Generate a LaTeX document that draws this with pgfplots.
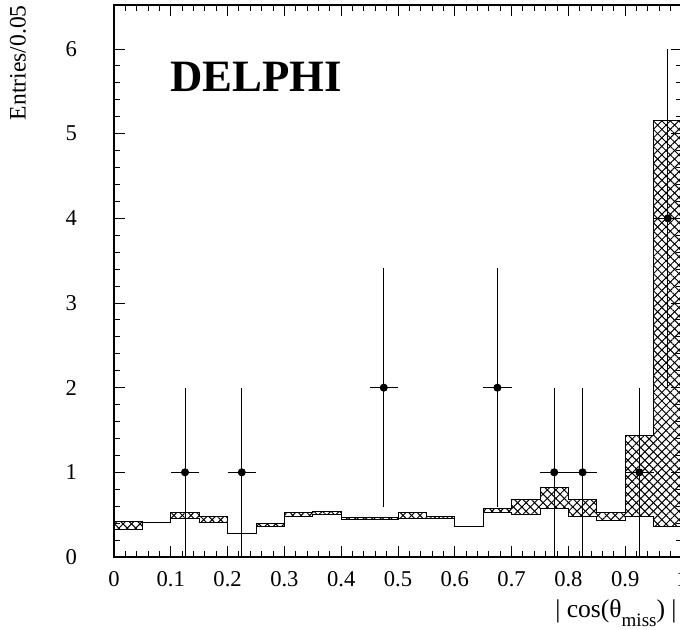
\documentclass[border=0pt]{standalone}
\usepackage{fontspec}
\setmainfont{Liberation Serif}
\usepackage{pgfplots}
\usepackage{pgfplotstable}
\pgfplotsset{compat=1.18}
\usepgfplotslibrary{fillbetween}
\usetikzlibrary{patterns.meta}

\pgfplotstableread{
x lo hi
0.00 0.32 0.42
0.05 0.41 0.41
0.10 0.45 0.52
0.15 0.41 0.48
0.20 0.275 0.275
0.25 0.36 0.39
0.30 0.48 0.52
0.35 0.50 0.54
0.40 0.44 0.47
0.45 0.44 0.47
0.50 0.45 0.53
0.55 0.46 0.48
0.60 0.36 0.36
0.65 0.53 0.57
0.70 0.50 0.68
0.75 0.57 0.82
0.80 0.48 0.68
0.85 0.43 0.53
0.90 0.48 1.44
0.95 0.36 5.15
1.00 0.36 5.15
}\band

\pgfplotstableread{
x y ex ey
0.125 1 0.025 1
0.225 1 0.025 1
0.475 2 0.025 1.414
0.675 2 0.025 1.414
0.775 1 0.025 1
0.825 1 0.025 1
0.925 1 0.025 1
0.975 4 0.025 2
}\data

\begin{document}
\begin{tikzpicture}
\begin{axis}[
  at={(0,0)}, anchor=south west,
  width=284pt, height=276pt, scale only axis,
  xmin=0, xmax=1, ymin=0, ymax=6.52,
  xtick={0,0.1,0.2,0.3,0.4,0.5,0.6,0.7,0.8,0.9,1},
  xticklabels={0,0.1,0.2,0.3,0.4,0.5,0.6,0.7,0.8,0.9,1},
  ytick={0,1,2,3,4,5,6},
  minor x tick num=4, minor y tick num=4,
  tick align=inside,
  major tick length=5.5pt, minor tick length=3.2pt,
  tick style={line width=0.5pt, black},
  axis line style={line width=0.6pt},
  ticklabel style={font=\fontsize{11.3}{13}\selectfont},
  /pgf/number format/assume math mode=true,
  xticklabel style={yshift=-3.8pt},
  yticklabel style={xshift=-15pt},
]
\addplot[name path=hi, const plot, black, line width=0.5pt] table[x=x,y=hi]{\band};
\addplot[name path=lo, const plot, black, line width=0.5pt] table[x=x,y=lo]{\band};
\addplot[pattern={Lines[angle=45,distance=3pt,line width=0.5pt]}] fill between[of=hi and lo];
\addplot[pattern={Lines[angle=-45,distance=3pt,line width=0.5pt]}] fill between[of=hi and lo];
\addplot[only marks, mark=*, mark size=1.8pt, black,
  error bars/.cd, x dir=both, x explicit, y dir=both, y explicit,
  error mark=none, error bar style={line width=0.5pt, black}]
  table[x=x,y=y,x error=ex,y error=ey]{\data};
\node[font=\fontsize{22.4}{25}\bfseries\selectfont, anchor=base west, inner sep=0pt]
  at (rel axis cs:0.0986,0.8424) {DELPHI};
\end{axis}
\node[rotate=90, anchor=east, inner sep=0pt, font=\fontsize{11.8}{14}\selectfont] at (-48pt,276pt) {Entries/0.05};
\node[anchor=base east, inner sep=0pt, font=\fontsize{12.8}{15}\selectfont] at (281.5pt,-30.5pt) {| cos(θ\raisebox{-4.5pt}{\fontsize{9.5}{11}\selectfont miss}) |};
\pgfresetboundingbox
\path (-57pt,-36.5pt) rectangle (283pt,278.5pt);
\end{tikzpicture}
\end{document}
